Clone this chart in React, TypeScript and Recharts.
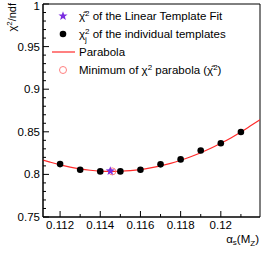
import { ComposedChart, Line, Scatter, XAxis, YAxis, ReferenceArea } from "recharts"

const FONT = "'Liberation Sans', Arial, Helvetica, sans-serif"

// alpha_s values of the individual templates and their chi2/ndf
const templateAlphas = [0.112, 0.113, 0.114, 0.115, 0.116, 0.117, 0.118, 0.119, 0.12, 0.121]
const templateChi2 = [0.8121, 0.8055, 0.8035, 0.8035, 0.8055, 0.8118, 0.8176, 0.828, 0.8365, 0.8498]

// parabola
const parabolaAlphas = [0.11115, 0.1115, 0.112, 0.1125, 0.113, 0.1135, 0.114, 0.1145, 0.115, 0.1155, 0.116, 0.1165, 0.117, 0.1175, 0.118, 0.1185, 0.119, 0.1195, 0.12, 0.1205, 0.121, 0.1215, 0.12195]
const parabolaChi2 = [0.8169, 0.8144, 0.8111, 0.8085, 0.8064, 0.8049, 0.8039, 0.8035, 0.8037, 0.8044, 0.8057, 0.8076, 0.81, 0.813, 0.8166, 0.8207, 0.8254, 0.8306, 0.8365, 0.8428, 0.8498, 0.8573, 0.8641]

// linear template fit result and parabola minimum
const ltfPoint = { x: 0.1145, y: 0.8040 }
const parabolaMin = { x: 0.1146, y: 0.8035 }

const xDomain = [0.11115, 0.12195]
const yDomain = [0.75, 1]
const xTicks = [0.112, 0.113, 0.114, 0.115, 0.116, 0.117, 0.118, 0.119, 0.12, 0.121]
const xMajor = [0.112, 0.114, 0.116, 0.118, 0.12]
const yTicks = [0.75, 0.76, 0.77, 0.78, 0.79, 0.8, 0.81, 0.82, 0.83, 0.84, 0.85, 0.86, 0.87, 0.88, 0.89, 0.9, 0.91, 0.92, 0.93, 0.94, 0.95, 0.96, 0.97, 0.98, 0.99, 1]
const yMajor = [0.75, 0.8, 0.85, 0.9, 0.95, 1]

const templateData = templateAlphas.map((x, i) => ({ x, y: templateChi2[i] }))
const parabolaData = parabolaAlphas.map((x, i) => ({ x, y: parabolaChi2[i] }))

const isMajor = (list: number[], v: number) => list.some(m => Math.abs(m - v) < 1e-7)

function starPath(cx: number, cy: number, ro: number, ri: number) {
  let d = ""
  for (let i = 0; i < 10; i++) {
    const r = i % 2 === 0 ? ro : ri
    const a = -Math.PI / 2 + (i * Math.PI) / 5
    d += `${i === 0 ? "M" : "L"}${cx + r * Math.cos(a)},${cy + r * Math.sin(a)}`
  }
  return d + "Z"
}

const PURPLE = "#7a2de0"
const RED = "#ff2a2a"

function LeftTick(props: any) {
  const { x, y, payload } = props
  const major = isMajor(yMajor, payload.value)
  return (
    <g>
      <line x1={x} x2={x + (major ? 6 : 3)} y1={y} y2={y} stroke="#000" strokeWidth={1} />
      {major && (
        <text x={x - 3} y={Math.max(y + 4, 9.5)} textAnchor="end" fontFamily={FONT} fontSize={11.5} fill="#000">
          {payload.value}
        </text>
      )}
    </g>
  )
}

function RightTick(props: any) {
  const { x, y, payload } = props
  const major = isMajor(yMajor, payload.value)
  return <line x1={x} x2={x - (major ? 6 : 3)} y1={y} y2={y} stroke="#000" strokeWidth={1} />
}

function BottomTick(props: any) {
  const { x, y, payload } = props
  const major = isMajor(xMajor, payload.value)
  return (
    <g>
      <line x1={x} x2={x} y1={y} y2={y - (major ? 6 : 3)} stroke="#000" strokeWidth={1} />
      {major && (
        <text x={x} y={y + 12} textAnchor="middle" fontFamily={FONT} fontSize={11.5} fill="#000">
          {payload.value}
        </text>
      )}
    </g>
  )
}

export default function App() {
  return (
    <div style={{ position: "absolute", left: 0, top: 0, width: 261, height: 258, background: "#fff" }}>
      <ComposedChart width={261} height={258} margin={{ top: 4, right: 1, bottom: 0, left: 0 }}>
        <XAxis
          type="number"
          dataKey="x"
          domain={xDomain}
          ticks={xTicks}
          allowDataOverflow
          height={41}
          tickSize={0}
          tickMargin={0}
          tickLine={false}
          axisLine={{ stroke: "#000" }}
          tick={BottomTick}
          interval={0}
        />
        <YAxis
          type="number"
          dataKey="y"
          domain={yDomain}
          ticks={yTicks}
          allowDataOverflow
          width={43}
          tickSize={0}
          tickMargin={0}
          tickLine={false}
          axisLine={{ stroke: "#000" }}
          tick={LeftTick}
          interval={0}
        />
        <YAxis
          yAxisId="right"
          orientation="right"
          type="number"
          domain={yDomain}
          ticks={yTicks}
          allowDataOverflow
          width={0}
          tickSize={0}
          tickMargin={0}
          tickLine={false}
          axisLine={{ stroke: "#000" }}
          tick={RightTick}
          interval={0}
        />
        <ReferenceArea x1={xDomain[0]} x2={xDomain[1]} y1={yDomain[0]} y2={yDomain[1]} fill="none" stroke="#000" strokeWidth={1} ifOverflow="visible" />
        <Line
          data={parabolaData}
          dataKey="y"
          type="monotone"
          stroke={RED}
          strokeWidth={1.2}
          dot={false}
          isAnimationActive={false}
        />
        <Scatter
          data={templateData}
          dataKey="y"
          isAnimationActive={false}
          shape={(p: any) => <circle cx={p.cx} cy={p.cy} r={3.3} fill="#000" />}
        />
        <Scatter
          data={[parabolaMin]}
          dataKey="y"
          isAnimationActive={false}
          shape={(p: any) => <circle cx={p.cx} cy={p.cy} r={3.5} fill="none" stroke="#ff8080" strokeWidth={1} />}
        />
        <Scatter
          data={[ltfPoint]}
          dataKey="y"
          isAnimationActive={false}
          shape={(p: any) => <path d={starPath(p.cx, p.cy, 4.8, 2)} fill={PURPLE} />}
        />
      </ComposedChart>

      {/* axis titles and legend */}
      <svg width={261} height={258} style={{ position: "absolute", left: 0, top: 0, pointerEvents: "none" }}>
        <text transform="translate(16,3) rotate(-90)" textAnchor="end" fontFamily={FONT} fontSize={11} fill="#000">
          χ<tspan dy={-4} fontSize={8}>2</tspan><tspan dy={4}>/ndf</tspan>
        </text>
        <text x={259} y={243} textAnchor="end" fontFamily={FONT} fontSize={11.5} fill="#000">
          α<tspan dy={2} fontSize={8}>s</tspan><tspan dy={-2}>(M</tspan><tspan dy={3} fontSize={8}>Z</tspan><tspan dy={-3}>)</tspan>
        </text>

        <path d={starPath(63, 16, 4.8, 2)} fill={PURPLE} />
        <circle cx={63} cy={34} r={3.3} fill="#000" />
        <line x1={52} x2={75} y1={52} y2={52} stroke={RED} strokeWidth={1.2} />
        <circle cx={63} cy={70} r={3.5} fill="none" stroke="#ff8080" strokeWidth={1} />

        <g fontFamily={FONT} fontSize={11.5} fill="#000">
          <text x={79} y={20}>
            χ̂<tspan dy={-4} fontSize={8}>2</tspan><tspan dy={4}> of the Linear Template Fit</tspan>
          </text>
          <text x={79} y={38}>
            χ<tspan dy={-4} fontSize={8}>2</tspan><tspan dx={-4.5} dy={8} fontSize={8}>j</tspan><tspan dx={2.7} dy={-4}> of the individual templates</tspan>
          </text>
          <text x={79} y={56}>Parabola</text>
          <text x={79} y={74}>
            Minimum of χ<tspan dy={-4} fontSize={8}>2</tspan><tspan dy={4}> parabola (χ̂</tspan><tspan dy={-4} fontSize={8}>2</tspan><tspan dy={4}>)</tspan>
          </text>
        </g>
      </svg>
    </div>
  )
}
